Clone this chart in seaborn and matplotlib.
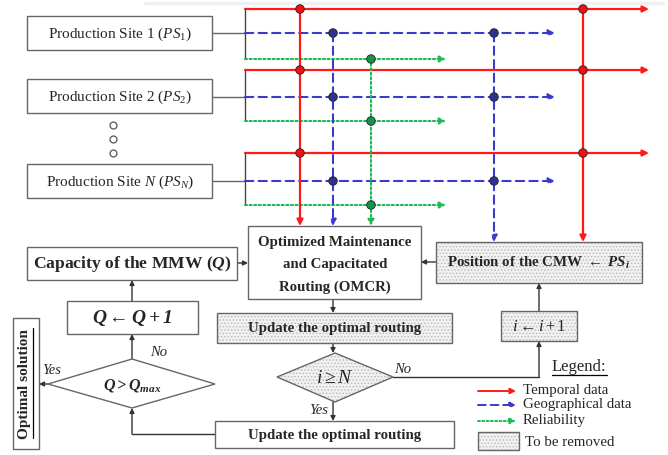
import numpy as np
import pandas as pd
import matplotlib
matplotlib.use('Agg')
import matplotlib.pyplot as plt
from matplotlib.patches import Rectangle, Polygon, FancyArrowPatch
import seaborn as sns

# ---- diagram content ----
site_labels = [r'Production Site 1 ($PS_1$)', r'Production Site 2 ($PS_2$)', r'Production Site $N$ ($PS_N$)']
site_box_y = [17, 80, 165]          # top of each production-site box
red_y = [10, 71, 154]               # temporal data rows
blue_y = [34, 98, 182]              # geographical data rows
green_y = [60, 122, 206]            # reliability rows
red_x = [300, 583]
blue_x = [333, 494]
green_x = [371]
legend_labels = ['Temporal data', 'Geographical data', 'Reliability', 'To be removed']

RED = '#ff1a1a'
BLUE = '#3a3acc'
GREEN = '#1db954'
EDGE = '#666666'
SERIF = ['Liberation Serif', 'DejaVu Serif']
HFACE, HCOL = '#f1f1f1', '#b8b8b8'

sns.set_theme(style='white')
plt.rcParams['font.family'] = SERIF
plt.rcParams['mathtext.fontset'] = 'custom'
plt.rcParams['mathtext.rm'] = 'Liberation Serif'
plt.rcParams['mathtext.it'] = 'Liberation Serif:italic'
plt.rcParams['mathtext.bf'] = 'Liberation Serif:italic:bold'
plt.rcParams['mathtext.fallback'] = 'stix'
plt.rcParams['hatch.linewidth'] = 0.6

fig = plt.figure(figsize=(6.68, 4.56), dpi=100)
ax = fig.add_axes([0, 0, 1, 1])
ax.set_xlim(0, 668)
ax.set_ylim(456, 0)
ax.axis('off')


def box(x0, y0, x1, y1, dotted=False, lw=1.0):
    if dotted:
        ax.add_patch(Rectangle((x0, y0), x1 - x0, y1 - y0, facecolor=HFACE,
                               edgecolor=HCOL, hatch='.....', lw=0, zorder=2))
    else:
        ax.add_patch(Rectangle((x0, y0), x1 - x0, y1 - y0, facecolor='white', lw=0, zorder=2))
    ax.add_patch(Rectangle((x0, y0), x1 - x0, y1 - y0, facecolor='none',
                           edgecolor=EDGE, lw=lw, zorder=3))


def arrow(pts, color='#333333', ls='-', lw=1.0, head=7):
    pts = np.array(pts, dtype=float)
    if len(pts) > 2:
        ax.plot(pts[:-1, 0], pts[:-1, 1], color=color, ls=ls, lw=lw, zorder=1)
    ax.add_patch(FancyArrowPatch(tuple(pts[-2]), tuple(pts[-1]), arrowstyle='-|>',
                                 mutation_scale=head, color=color, lw=lw, ls=ls,
                                 shrinkA=0, shrinkB=0, zorder=1))


def underline(t, pad=1.5, vertical=False):
    fig.canvas.draw()
    bb = t.get_window_extent().transformed(ax.transData.inverted())
    if vertical:
        x = max(bb.x0, bb.x1) + pad
        ax.plot([x, x], [bb.y0, bb.y1], color='black', lw=0.9)
    else:
        y = max(bb.y0, bb.y1) + pad
        ax.plot([bb.x0, bb.x1], [y, y], color='black', lw=0.9)


# faint scan edge at the very top
ax.plot([145, 663], [4, 4], color='#f0f0f0', lw=2.5, zorder=0)

# ---- production sites and the data network ----
for lab, by, ry, bly, gy in zip(site_labels, site_box_y, red_y, blue_y, green_y):
    box(27, by, 212, by + 34)
    ax.text(120, by + 17, lab, ha='center', va='center', fontsize=11, zorder=4)
    ax.plot([212, 245], [bly, bly], color=EDGE, lw=1.0, zorder=1)
    ax.plot([245, 245], [ry, gy], color='#444444', lw=1.0, zorder=1)
    arrow([(245, ry), (649, ry)], color=RED, lw=1.6, head=9)
    arrow([(245, bly), (555, bly)], color=BLUE, ls=(0, (4, 2.5)), lw=1.5, head=9)
    arrow([(245, gy), (446, gy)], color=GREEN, ls=(0, (1, 1.2)), lw=1.5, head=9)

# ellipsis dots
ax.plot([113, 113, 113], [126, 140, 154], 'o', mfc='white', mec='#555555', ms=5, mew=0.9)

# vertical feeders
arrow([(300, red_y[0]), (300, 227)], color=RED, lw=1.6, head=9)
arrow([(583, red_y[0]), (583, 243)], color=RED, lw=1.6, head=9)
arrow([(333, blue_y[0]), (333, 227)], color=BLUE, ls=(0, (4, 2.5)), lw=1.5, head=9)
arrow([(494, blue_y[0]), (494, 243)], color=BLUE, ls=(0, (4, 2.5)), lw=1.5, head=9)
arrow([(371, green_y[0]), (371, 227)], color=GREEN, ls=(0, (1, 1.2)), lw=1.5, head=9)

# junction dots via seaborn
dots = pd.DataFrame(
    [(x, y, 'r') for x in red_x for y in red_y] +
    [(x, y, 'b') for x in blue_x for y in blue_y] +
    [(x, y, 'g') for x in green_x for y in green_y],
    columns=['x', 'y', 'kind'])
sns.scatterplot(data=dots, x='x', y='y', hue='kind', palette={'r': '#ee1111', 'b': '#303090', 'g': '#16924a'},
                s=38, edgecolor='#222222', linewidth=0.6, legend=False, ax=ax, zorder=5)
ax.set_xlim(0, 668)
ax.set_ylim(456, 0)
ax.set_xlabel('')
ax.set_ylabel('')

# ---- flowchart ----
box(248, 227, 421, 300)
for yy, s in zip([243, 265, 287], ['Optimized Maintenance', 'and Capacitated', 'Routing (OMCR)']):
    ax.text(335, yy, s, ha='center', va='center', fontsize=10.7, fontweight='bold', zorder=4)

box(27, 248, 237, 281)
ax.text(132, 264.5, r'Capacity of the MMW ($\mathbf{Q}$)', ha='center', va='center',
        fontsize=12.6, fontweight='bold', zorder=4)
arrow([(237, 264), (248, 264)], head=7)

box(67, 302, 198, 335)
ax.text(132, 318.5, r'$\mathbf{Q \leftarrow Q + 1}$', ha='center', va='center', fontsize=14, zorder=4)
arrow([(132, 302), (132, 281)], head=7)

ax.add_patch(Polygon([(48, 385), (132, 360), (215, 385), (132, 409)], closed=True,
                     facecolor='white', edgecolor=EDGE, lw=1.0, zorder=2))
ax.text(132, 386, r'$\mathbf{Q > Q_{max}}$', ha='center', va='center', fontsize=11.5, zorder=4)
arrow([(132, 360), (132, 335)], head=7)
ax.text(150, 353, 'No', style='italic', fontsize=10.5, ha='left', va='center')
ax.text(42, 371, 'Yes', style='italic', fontsize=10.5, ha='left', va='center')
arrow([(48, 385), (39, 385)], head=7)

box(13, 319, 39, 450)
t_opt = ax.text(25, 384, 'Optimal solution', rotation=90, ha='center', va='center',
                fontsize=11, fontweight='bold', zorder=4)

box(217, 314, 452, 344, dotted=True)
ax.text(334.5, 329, 'Update the optimal routing', ha='center', va='center', fontsize=10.7,
        fontweight='bold', zorder=4)
arrow([(333, 300), (333, 314)], head=7)

diamond = [(277, 378), (335, 354), (393, 378), (335, 403)]
ax.add_patch(Polygon(diamond, closed=True, facecolor=HFACE, edgecolor=HCOL,
                     hatch='.....', lw=0, zorder=2))
ax.add_patch(Polygon(diamond, closed=True, facecolor='none', edgecolor=EDGE, lw=1.0, zorder=3))
ax.text(335, 379, r'$i \geq N$', ha='center', va='center', fontsize=14, zorder=4)
arrow([(333, 344), (333, 354)], head=7)
ax.text(309, 411, 'Yes', style='italic', fontsize=10.5, ha='left', va='center')
ax.text(394, 370, 'No', style='italic', fontsize=10.5, ha='left', va='center')
arrow([(333, 403), (333, 422)], head=7)

box(215, 422, 454, 449)
ax.text(334.5, 436, 'Update the optimal routing', ha='center', va='center', fontsize=10.7,
        fontweight='bold', zorder=4)
arrow([(215, 435), (132, 435), (132, 409)], head=7)

box(501, 312, 577, 342, dotted=True)
ax.text(539, 327, r'$i \leftarrow i + 1$', ha='center', va='center', fontsize=12, zorder=4)
arrow([(393, 378), (539, 378), (539, 342)], head=7)

box(436, 243, 642, 284, dotted=True)
ax.text(539, 263, r'Position of the CMW $\leftarrow$ $\mathbf{PS_i}$', ha='center', va='center',
        fontsize=10.7, fontweight='bold', zorder=4)
arrow([(539, 312), (539, 284)], head=7)
arrow([(436, 263), (421, 263)], head=7)

# ---- legend ----
t_leg = ax.text(552, 367, 'Legend:', fontsize=12, ha='left', va='center')
leg_y = [392, 406, 422]
leg_style = [(RED, '-'), (BLUE, (0, (4, 2.5))), (GREEN, (0, (1, 1.2)))]
for yy, (c, ls), lab in zip(leg_y, leg_style, legend_labels[:3]):
    arrow([(478, yy), (516, yy)], color=c, ls=ls, lw=1.4, head=8)
    ax.text(523, yy - 1, lab, fontsize=10.7, ha='left', va='center')
box(478, 433, 519, 451, dotted=True)
ax.text(525, 443, legend_labels[3], fontsize=10.7, ha='left', va='center')

underline(t_opt, pad=1.5, vertical=True)
underline(t_leg, pad=1.0)

fig.savefig('out.png', dpi=100)
